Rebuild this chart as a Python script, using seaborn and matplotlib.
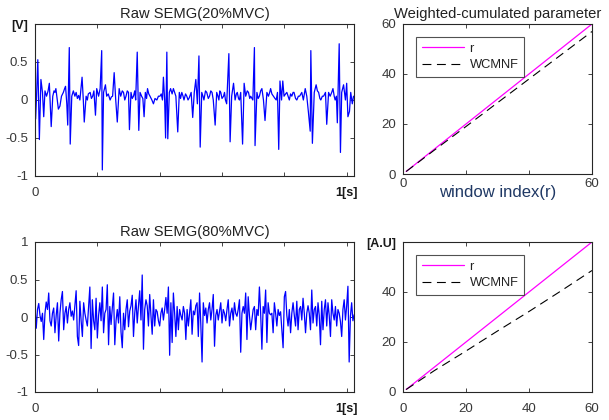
import numpy as np
import pandas as pd
import matplotlib
matplotlib.use('Agg')
import matplotlib.pyplot as plt
import seaborn as sns

# ---------------- data ----------------
# Raw SEMG (20% MVC): time [ms], value [V]
t20_ms = [0, 2, 5, 9, 14, 19, 24, 28, 32, 37, 42, 46, 52, 57, 61, 64, 67, 70, 75, 80,
          85, 91, 95, 98, 102, 105, 110, 113, 118, 123, 128, 132, 136, 140, 144, 151, 155, 158, 164, 168,
          171, 177, 181, 185, 189, 194, 198, 204, 209, 214, 216, 220, 226, 230, 235, 241, 245, 249, 254, 259,
          264, 270, 275, 280, 284, 288, 292, 296, 300, 303, 308, 312, 316, 320, 323, 328, 333, 337, 342, 346,
          350, 354, 358, 361, 365, 369, 375, 380, 385, 391, 396, 401, 405, 409, 412, 416, 419, 423, 426, 431,
          435, 440, 444, 448, 452, 458, 463, 467, 471, 475, 478, 483, 487, 491, 495, 501, 506, 511, 516, 521,
          526, 530, 535, 539, 542, 547, 551, 556, 560, 564, 568, 572, 578, 583, 587, 590, 593, 596, 600, 605,
          608, 611, 615, 622, 626, 631, 637, 642, 646, 649, 653, 656, 660, 666, 671, 676, 681, 685, 689, 692,
          696, 699, 704, 706, 712, 716, 720, 724, 728, 733, 738, 744, 749, 753, 756, 760, 765, 770, 774, 778,
          782, 786, 791, 795, 799, 804, 808, 812, 816, 820, 824, 828, 831, 836, 840, 845, 849, 853, 856, 861,
          867, 872, 877, 883, 885, 890, 896, 902, 906, 910, 914, 917, 922, 926, 932, 936, 942, 947, 952, 956,
          960, 963, 967, 970, 976, 980, 984, 990, 996, 1000, 1004, 1009, 1013, 1018, 1022]
v20 = [0.10, -0.25, 0.05, 0.53, -0.52, 0.27, 0.10, -0.22, 0.12, 0.05, 0.12, 0.22, -0.35, 0.05, 0.12, 0.10, 0.15, 0.05, -0.12, -0.08,
       0.05, 0.10, 0.15, 0.18, -0.05, -0.33, 0.69, -0.58, 0.05, 0.12, 0.05, 0.10, 0.02, 0.06, 0.00, 0.30, 0.00, -0.29, 0.05, 0.00,
       0.08, 0.10, 0.02, 0.05, 0.12, -0.20, 0.15, 0.05, 0.15, 0.65, -0.92, 0.10, 0.20, 0.05, 0.08, 0.00, 0.04, 0.05, 0.36, 0.00,
       -0.29, 0.15, 0.05, 0.12, 0.10, 0.00, 0.05, 0.12, 0.10, -0.39, 0.10, 0.02, 0.05, 0.12, 0.00, 0.63, -0.40, 0.10, 0.05, 0.02,
       -0.22, 0.10, 0.02, 0.15, 0.08, 0.05, 0.00, -0.05, 0.02, 0.00, 0.05, 0.05, 0.08, 0.00, 0.30, 0.00, -0.50, 0.63, -0.51, 0.10,
       0.15, 0.08, 0.15, 0.10, 0.05, -0.42, 0.10, 0.02, 0.10, 0.05, 0.00, 0.08, 0.05, 0.00, 0.03, 0.10, -0.23, 0.10, 0.27, -0.05,
       0.58, -0.62, 0.10, 0.05, 0.00, 0.12, 0.10, 0.02, 0.05, 0.12, 0.10, 0.00, -0.33, 0.10, 0.05, 0.00, 0.12, 0.10, 0.02, 0.05,
       0.10, 0.00, -0.05, 0.61, -0.55, 0.05, 0.22, 0.00, 0.08, 0.10, 0.02, 0.00, 0.10, -0.58, 0.22, 0.05, 0.12, 0.10, 0.02, 0.05,
       0.02, 0.00, 0.69, -0.60, 0.10, 0.02, 0.05, 0.12, 0.15, 0.00, -0.27, 0.10, 0.05, 0.10, 0.15, 0.08, 0.05, 0.02, 0.00, 0.10,
       -0.65, 0.25, 0.00, 0.25, 0.05, 0.08, 0.10, 0.05, 0.00, 0.08, 0.05, 0.10, 0.10, 0.02, 0.00, 0.05, 0.05, 0.08, 0.10, 0.00,
       0.15, 0.05, -0.15, -0.41, 0.65, -0.57, 0.10, 0.20, 0.12, 0.10, 0.02, 0.00, 0.05, 0.05, 0.10, -0.32, 0.10, 0.05, 0.10, 0.15,
       0.05, 0.00, 0.05, -0.30, 0.74, -0.69, 0.10, 0.20, 0.00, 0.22, -0.22, -0.15, 0.10, -0.05, 0.05]

# Raw SEMG (80% MVC): samples every 4 ms, value [V]
step80_ms = 4
v80 = [0.14, -0.15, 0.10, 0.18, 0.02, -0.06, 0.05, -0.30, 0.05, 0.20,
       0.10, 0.32, -0.05, -0.12, 0.05, 0.12, -0.21, 0.02, 0.19, -0.32,
       0.05, 0.23, 0.34, -0.17, 0.05, 0.14, -0.08, 0.10, 0.19, 0.01,
       0.08, -0.04, 0.15, 0.35, -0.26, -0.38, 0.21, -0.05, -0.26, 0.19,
       0.05, -0.04, -0.12, 0.15, 0.40, -0.42, 0.23, -0.05, -0.17, 0.25,
       -0.28, 0.02, 0.19, -0.05, 0.40, -0.21, 0.05, 0.10, 0.43, -0.37,
       0.14, -0.10, 0.12, 0.32, -0.37, -0.05, 0.10, -0.08, 0.27, -0.20,
       -0.41, 0.05, -0.17, 0.10, 0.23, -0.13, 0.08, 0.15, 0.29, -0.26,
       0.05, 0.23, -0.08, 0.15, 0.35, -0.04, 0.56, -0.43, 0.10, 0.23,
       0.15, -0.12, 0.30, 0.02, -0.23, 0.23, -0.12, 0.10, 0.07, -0.05,
       -0.12, 0.05, 0.12, -0.04, 0.10, 0.26, 0.05, 0.40, -0.51, 0.19,
       -0.34, 0.32, 0.05, -0.26, 0.14, -0.17, 0.10, 0.02, -0.04, 0.14,
       0.05, -0.30, 0.10, -0.12, 0.05, 0.23, -0.23, 0.08, 0.03, 0.15,
       0.19, -0.26, 0.32, -0.10, -0.60, 0.19, 0.02, 0.12, -0.08, 0.10,
       0.19, -0.04, 0.10, 0.30, -0.39, 0.02, 0.10, -0.04, 0.08, 0.19,
       -0.08, 0.10, 0.05, -0.05, 0.10, 0.23, -0.12, 0.05, 0.12, -0.04,
       0.19, 0.05, 0.01, 0.10, 0.23, -0.47, 0.05, 0.14, 0.05, 0.32,
       -0.30, 0.27, 0.02, -0.17, -0.04, 0.10, 0.14, -0.17, 0.10, 0.02,
       0.40, 0.05, -0.43, 0.14, 0.05, 0.36, -0.34, 0.19, 0.05, 0.03,
       0.05, -0.21, 0.19, 0.05, -0.12, 0.10, 0.02, 0.07, -0.17, -0.41,
       0.27, 0.34, 0.02, -0.12, 0.10, -0.21, 0.05, 0.19, 0.02, -0.12,
       0.21, -0.17, 0.10, 0.14, -0.04, 0.25, 0.05, -0.21, 0.05, 0.15,
       0.05, -0.17, 0.36, -0.08, 0.10, 0.14, -0.12, 0.19, 0.02, -0.37,
       0.21, -0.17, 0.10, 0.23, -0.12, 0.19, 0.02, -0.26, 0.23, 0.05,
       -0.04, 0.14, -0.12, 0.10, 0.05, -0.06, -0.26, 0.10, 0.23, -0.04,
       0.15, 0.41, -0.60, 0.01, 0.19, -0.05, 0.03]

# Weighted-cumulated parameter (20% MVC)
win_idx = [1, 10, 20, 30, 40, 50, 60]
r_top = [1, 10, 20, 30, 40, 50, 60]
wcmnf_top = [1, 9.6, 19.0, 28.5, 38.0, 47.5, 57.0]
# Weighted-cumulated parameter (80% MVC)
r_bot = [1, 10, 20, 30, 40, 50, 60]
wcmnf_bot = [1, 8.6, 16.4, 24.4, 32.2, 40.3, 48.6]

titles = ["Raw SEMG(20%MVC)", "Weighted-cumulated parameter", "Raw SEMG(80%MVC)"]
sig_yticks = [-1, -0.5, 0, 0.5, 1]
sig_xticks = [0, 0.2, 0.4, 0.6, 0.8, 1.0]
par_ticks = [0, 20, 40, 60]

# ---------------- style ----------------
sns.set_theme(style='white')
plt.rcParams['font.family'] = ['Liberation Sans', 'DejaVu Sans']
plt.rcParams.update({
    'axes.edgecolor': '#262626',
    'axes.linewidth': 0.8,
    'xtick.direction': 'in', 'ytick.direction': 'in',
    'xtick.top': True, 'ytick.right': True,
    'xtick.bottom': True, 'ytick.left': True,
    'xtick.major.size': 3, 'ytick.major.size': 3,
    'xtick.major.width': 0.6, 'ytick.major.width': 0.6,
    'xtick.color': '#262626', 'ytick.color': '#262626',
    'xtick.labelsize': 9.5, 'ytick.labelsize': 9.5,
    'xtick.labelcolor': '#383838', 'ytick.labelcolor': '#383838',
})

W, H = 609, 420
fig = plt.figure(figsize=(W / 100, H / 100), dpi=100)

def box(x0, y0, x1, y1):
    return [x0 / W, 1 - y1 / H, (x1 - x0) / W, (y1 - y0) / H]

ax1 = fig.add_axes(box(35, 24, 354, 176))
ax2 = fig.add_axes(box(403, 24, 592, 174))
ax3 = fig.add_axes(box(35, 242, 354, 392))
ax4 = fig.add_axes(box(403, 242, 592, 392))

blue = '#0000FF'
magenta = '#FF00FF'

# signals
df20 = pd.DataFrame({'t': np.array(t20_ms) / 1000.0, 'v': v20})
df80 = pd.DataFrame({'t': np.arange(len(v80)) * step80_ms / 1000.0, 'v': v80})
sns.lineplot(data=df20, x='t', y='v', ax=ax1, color=blue, lw=0.9, sort=False, estimator=None)
sns.lineplot(data=df80, x='t', y='v', ax=ax3, color=blue, lw=0.9, sort=False, estimator=None)

for ax, title, toplab in [(ax1, titles[0], '[V]'), (ax3, titles[2], '1')]:
    ax.set_xlim(0, 1.0235)
    ax.set_ylim(-1, 1)
    ax.set_yticks(sig_yticks)
    ax.set_yticklabels(['-1', '-0.5', '0', '0.5', toplab])
    ax.set_xticks(sig_xticks)
    ax.set_xticklabels(['0', '', '', '', '', '1[s]'])
    ax.set_xlabel('')
    ax.set_ylabel('')
    ax.set_title(title, fontsize=10.6, color='#222222', pad=4)
    ax.tick_params(axis='x', pad=8)
    ax.tick_params(axis='y', pad=5)
    xl = ax.get_xticklabels()[-1]
    xl.set_fontweight('bold'); xl.set_color('#1a1a1a'); xl.set_fontsize(9)
    if toplab == '[V]':
        yl = ax.get_yticklabels()[-1]
        yl.set_fontweight('bold'); yl.set_color('#1a1a1a'); yl.set_fontsize(9)

# parameter plots
for ax, r, w in [(ax2, r_top, wcmnf_top), (ax4, r_bot, wcmnf_bot)]:
    dfp = pd.DataFrame({'x': win_idx, 'r': r, 'w': w})
    sns.lineplot(data=dfp, x='x', y='r', ax=ax, color=magenta, lw=0.9, label='r')
    sns.lineplot(data=dfp, x='x', y='w', ax=ax, color='black', lw=0.8,
                 linestyle=(0, (8, 5)), label='WCMNF')
    ax.set_xlim(0, 60)
    ax.set_ylim(0, 60)
    ax.set_xticks(par_ticks)
    ax.set_yticks(par_ticks)
    ax.set_ylabel('')
    ax.tick_params(axis='y', pad=5)
    leg = ax.legend(loc='upper left', bbox_to_anchor=(13 / 189, 1 - 13 / 150),
                    fontsize=9.3, frameon=True, fancybox=False, handlelength=3.3,
                    borderpad=0.45, labelspacing=0.35, handletextpad=0.4, borderaxespad=0)
    leg.get_frame().set_edgecolor('#262626')
    leg.get_frame().set_linewidth(0.8)
    for txt in leg.get_texts():
        txt.set_color('#222222')

ax2.set_xticklabels(['0', '', '', '60'])
ax2.tick_params(axis='x', pad=3)
ax2.set_xlabel('window index(r)', fontsize=12, color='#1F3864')
ax2.xaxis.set_label_coords(0.5, -0.12)
ax2.xaxis.label.set_verticalalignment('center')
ax2.set_title(titles[1], fontsize=10.6, color='#222222', pad=4)

ax4.set_xticklabels(['0', '20', '40', '60'])
ax4.tick_params(axis='x', pad=8)
ax4.set_xlabel('')
ax4.set_yticklabels(['0', '20', '40', '[A.U]'])
yl = ax4.get_yticklabels()[-1]
yl.set_fontweight('bold'); yl.set_color('#1a1a1a'); yl.set_fontsize(9)

fig.savefig('out.png', dpi=100)
